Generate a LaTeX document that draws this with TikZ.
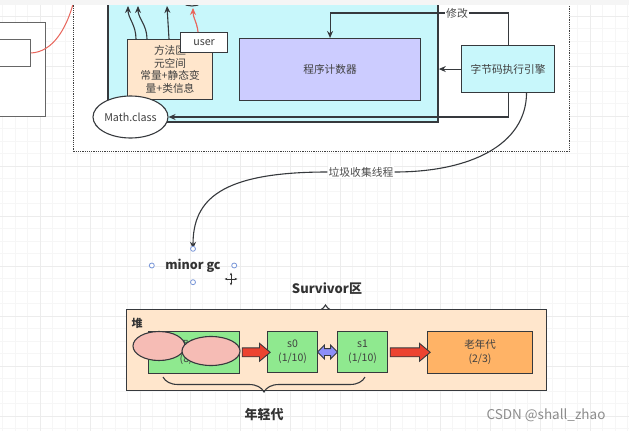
\documentclass[tikz,border=0pt]{standalone}
\usepackage{fontspec}
\setmainfont{Noto Sans CJK SC}
\usetikzlibrary{calc,decorations,decorations.pathreplacing,shapes,shapes.arrows,arrows.meta}
\definecolor{edge}{HTML}{36393D}
\definecolor{cyanbg}{HTML}{C8F7FB}
\definecolor{peach}{HTML}{FFE6CC}
\definecolor{lilac}{HTML}{CCCCFF}
\definecolor{leaf}{HTML}{8FE98F}
\definecolor{blush}{HTML}{F6BCB5}
\definecolor{amber}{HTML}{FFB366}
\definecolor{flame}{HTML}{EC4330}
\definecolor{swapblue}{HTML}{8C8EF7}
\definecolor{redline}{HTML}{E8665C}
\definecolor{handleblue}{HTML}{7896D8}
\tikzset{
	box/.style={draw=edge, line width=1.1pt, text=black!75, align=center, inner sep=0pt,
		font=\fontsize{10.7}{12.6}\selectfont},
	heapbox/.style={box, font=\fontsize{10.5}{14}\selectfont},
	conn/.style={draw=edge, line width=1.1pt, -{Stealth[length=7pt,width=6pt]}},
	lbl/.style={fill=white, inner sep=1pt, text=black!70, font=\fontsize{10.8}{12}\selectfont},
	fatarrow/.style={single arrow, draw=edge, fill=flame, line width=0.9pt, inner sep=4pt,
		single arrow head extend=4.5pt, single arrow tip angle=80},
	swaparrow/.style={double arrow, draw=edge, fill=swapblue, line width=0.9pt, inner sep=3pt,
		double arrow head extend=3.5pt, double arrow tip angle=90},
	bracket/.style={draw=edge, line width=1.1pt, decorate},
	title/.style={font=\fontsize{13}{15}\selectfont\bfseries, text=black!80},
	handle/.style={draw=handleblue, fill=white, line width=0.8pt}
}

\begin{document}
\begin{tikzpicture}[x=1pt,y=-1pt]
\useasboundingbox (0,0) rectangle (629,431);
\clip (0,0) rectangle (629,431);

\fill[white] (0,0) rectangle (629,431);
\foreach \i in {0,...,50}
{
	\draw[gray!7, line width=0.6pt] (2.5+12.5*\i,0) -- (2.5+12.5*\i,431);
}
\foreach \j in {0,...,34}
{
	\draw[gray!7, line width=0.6pt] (0,3.5+12.5*\j) -- (629,3.5+12.5*\j);
}
\foreach \i in {0,...,12}
	\draw[gray!15, line width=0.7pt] (40+50*\i,0) -- (40+50*\i,431);
\foreach \j in {0,...,8}
	\draw[gray!15, line width=0.7pt] (0,16+50*\j) -- (629,16+50*\j);

\node[draw=black!60, line width=1pt, fill=white, minimum width=55pt, minimum height=94pt,
	anchor=north west] (leftout) at (-10,22) {};
\node[draw=black!60, line width=1pt, fill=white, minimum width=40pt, minimum height=27pt,
	anchor=north west] (leftin) at (-10,39) {};
\draw[redline, line width=1pt] (leftin.east) .. controls (52,52) and (68,30) .. (76,-8);

\node[draw=black!75, densely dotted, line width=1.2pt, fill=white, minimum width=496pt,
	minimum height=181pt, anchor=north west] (jvm) at (73,-30) {};

\node[draw=edge, line width=1.8pt, fill=cyanbg, minimum width=330pt, minimum height=146pt,
	anchor=north west] (thread) at (107,-25) {};
\filldraw[fill=cyanbg, draw=edge, line width=1.1pt] (192,-3) ellipse (13pt and 9pt);

\node[box, fill=peach, minimum width=85pt, minimum height=60pt, anchor=north west]
	(method) at (127,39) {方法区\\元空间\\常量+静态变\\量+类信息};
\node[box, fill=white, minimum width=47pt, minimum height=20pt, anchor=north west]
	(user) at (180,32) {user};
\node[box, fill=lilac, minimum width=181pt, minimum height=62pt, anchor=north west]
	(pc) at (239,38) {程序计数器};
\node[box, fill=cyanbg, minimum width=93pt, minimum height=47pt, anchor=north west]
	(engine) at (461,45) {字节码执行引擎};
\node[box, ellipse, fill=white, minimum width=75pt, minimum height=42pt]
	(mathclass) at (130.5,117) {Math.class};

\coordinate (up1) at (128,6);
\coordinate (up2) at (138,6);
\coordinate (up3) at (167,6);
\coordinate (up4) at (193,8);
\draw[conn] ($(method.north west)+(9,0)$) .. controls (136,25) and (128,18) .. (up1);
\draw[conn] ($(method.north west)+(20,0)$) .. controls (147,25) and (138,18) .. (up2);
\draw[conn] ($(method.north west)+(42,0)$) -- (up3);
\draw[conn, draw=redline, fill=redline] ($(user.north)+(-6,0)$) .. controls (197,22) and (193,18) .. (up4);

\draw[conn] (engine.west) -- (thread.east |- engine.west);
\draw[conn] (engine.north) -- ++(0,-32) -| (pc.north);
\node[lbl] (edit) at (457,13) {修改};
\draw[conn] (engine.south) |- (mathclass.east);

\fill[gray!8] (0,0) rectangle (629,5);

\node[minimum width=82pt, minimum height=33pt, font=\fontsize{12.5}{15}\selectfont\bfseries,
	text=black!80] (mgc) at (193,265.5) {minor gc};
\node[lbl] (gcl) at (361,172) {垃圾收集线程};
\draw[edge, line width=1.1pt] ($(engine.south)+(18.5,0)$) .. controls (526,145) and (470,172) .. (gcl.east);
\draw[conn] (gcl.west) .. controls (220,172) and (193,200) .. (mgc.north);
\foreach \a in {north,south,east,west}
{
	\draw[handle] (mgc.\a) circle[radius=2.5pt];
}
\draw[black!80, line width=0.8pt, {Stealth[length=3pt]}-{Stealth[length=3pt]}] (224.5,279) -- (237.5,279);
\draw[black!80, line width=0.8pt, {Stealth[length=3pt]}-{Stealth[length=3pt]}] (231,272.5) -- (231,285.5);

\node[title] (surv) at (327,289) {Survivor区};
\draw[bracket, decoration={brace, amplitude=14pt}] (278,319) -- (373,319);

\node[box, fill=peach, minimum width=420pt, minimum height=81pt, anchor=north west]
	(heap) at (126,309) {};
\node[font=\fontsize{11}{13}\selectfont\bfseries, text=black!80] (heaplbl) at (137,323) {堆};
\node[heapbox, fill=leaf, minimum width=91pt, minimum height=42pt, anchor=north west]
	(eden) at (148,331) {伊甸园\\(8/10)};
\node[heapbox, fill=leaf, minimum width=50pt, minimum height=41pt, anchor=north west]
	(s0) at (267,331) {s0\\(1/10)};
\node[heapbox, fill=leaf, minimum width=50pt, minimum height=41pt, anchor=north west]
	(s1) at (337,331) {s1\\(1/10)};
\node[heapbox, fill=amber, minimum width=105pt, minimum height=42pt, anchor=north west]
	(old) at (427,331) {老年代\\(2/3)};
\node[box, ellipse, fill=blush, minimum width=52pt, minimum height=29pt] (obj1) at (159,346) {};
\node[box, ellipse, fill=blush, minimum width=58pt, minimum height=29pt] (obj2) at (211,351) {};

\path (eden.east) -- (s0.west) node[midway, fatarrow, minimum height=28pt] (a1) {};
\path (s0.east) -- (s1.west) node[midway, swaparrow, minimum height=20pt] (a2) {};
\path (s1.east) -- (old.west) node[midway, fatarrow, minimum height=40pt] (a3) {};

\draw[bracket, decoration={brace, amplitude=15pt}] (365,377) -- (163,377);
\node[title] (young) at (264,415) {年轻代};

\node[font=\fontsize{13.5}{16}\selectfont, text=black!45] (mark) at (546,415) {CSDN @shall\_zhao};
\end{tikzpicture}
\end{document}
